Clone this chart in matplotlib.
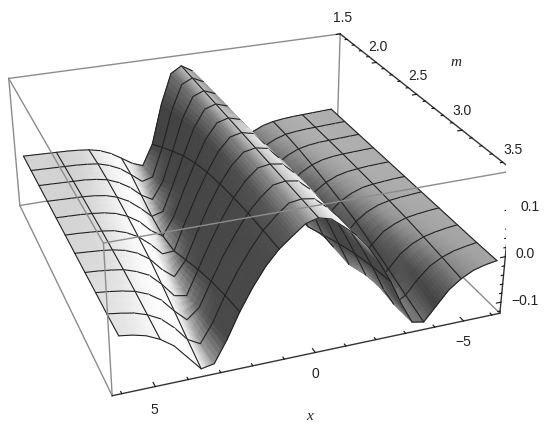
import numpy as np
import matplotlib
matplotlib.use('Agg')
import matplotlib.pyplot as plt
from mpl_toolkits.mplot3d import proj3d
from mpl_toolkits.mplot3d.art3d import Poly3DCollection

# --- DATA ---
x_values = [-6.0, -5.6, -5.2, -4.8, -4.4, -4.0, -3.6, -3.2, -2.8, -2.4, -2.0, -1.6, -1.2, -0.8, -0.4, 0.0,
            0.4, 0.8, 1.2, 1.6, 2.0, 2.4, 2.8, 3.2, 3.6, 4.0, 4.4, 4.8, 5.2, 5.6, 6.0]
m_values = [1.5, 1.7, 1.9, 2.1, 2.3, 2.5, 2.7, 2.9, 3.1, 3.3, 3.5]

z_m15 = [-.006, -.007, -.008, -.009, -.010, -.012, -.015, -.021, -.032, -.048, -.065, -.075, -.025, .070, .140, .155,
         .140, .070, -.025, -.075, -.065, -.048, -.032, -.021, -.015, -.012, -.010, -.009, -.008, -.007, -.006]
z_m17 = [-.006, -.007, -.008, -.009, -.010, -.012, -.015, -.023, -.035, -.054, -.075, -.068, .000, .085, .143, .155,
         .143, .085, .000, -.068, -.075, -.054, -.035, -.023, -.015, -.012, -.010, -.009, -.008, -.007, -.006]
z_m19 = [-.006, -.007, -.008, -.009, -.010, -.013, -.018, -.029, -.045, -.068, -.083, -.045, .025, .098, .145, .155,
         .145, .098, .025, -.045, -.083, -.068, -.045, -.029, -.018, -.013, -.010, -.009, -.008, -.007, -.006]
z_m21 = [-.006, -.007, -.008, -.009, -.011, -.015, -.023, -.037, -.058, -.082, -.075, -.015, .048, .108, .147, .155,
         .147, .108, .048, -.015, -.075, -.082, -.058, -.037, -.023, -.015, -.011, -.009, -.008, -.007, -.006]
z_m23 = [-.006, -.007, -.008, -.010, -.013, -.019, -.030, -.047, -.073, -.090, -.050, .010, .066, .116, .148, .155,
         .148, .116, .066, .010, -.050, -.090, -.073, -.047, -.030, -.019, -.013, -.010, -.008, -.007, -.006]
z_m25 = [-.006, -.007, -.009, -.011, -.015, -.024, -.038, -.060, -.087, -.085, -.025, .030, .080, .122, .149, .155,
         .149, .122, .080, .030, -.025, -.085, -.087, -.060, -.038, -.024, -.015, -.011, -.009, -.007, -.006]
z_m27 = [-.006, -.008, -.010, -.013, -.019, -.030, -.048, -.077, -.098, -.065, -.008, .045, .090, .126, .150, .155,
         .150, .126, .090, .045, -.008, -.065, -.098, -.077, -.048, -.030, -.019, -.013, -.010, -.008, -.006]
z_m29 = [-.006, -.008, -.011, -.015, -.024, -.037, -.062, -.093, -.098, -.045, .008, .056, .097, .129, .151, .155,
         .151, .129, .097, .056, .008, -.045, -.098, -.093, -.062, -.037, -.024, -.015, -.011, -.008, -.006]
z_m31 = [-.006, -.009, -.013, -.019, -.030, -.048, -.077, -.102, -.080, -.028, .022, .064, .102, .130, .151, .155,
         .151, .130, .102, .064, .022, -.028, -.080, -.102, -.077, -.048, -.030, -.019, -.013, -.009, -.006]
z_m33 = [-.006, -.010, -.015, -.024, -.038, -.062, -.093, -.108, -.068, -.015, .031, .071, .105, .130, .151, .155,
         .151, .130, .105, .071, .031, -.015, -.068, -.108, -.093, -.062, -.038, -.024, -.015, -.010, -.006]
z_m35 = [-.005, -.009, -.016, -.029, -.048, -.078, -.108, -.103, -.058, -.005, .040, .078, .107, .128, .148, .155,
         .148, .128, .107, .078, .040, -.005, -.058, -.103, -.108, -.078, -.048, -.029, -.016, -.009, -.005]

x_tick_labels = ['5', '0', '\u22125']
m_tick_labels = ['1.5', '2.0', '2.5', '3.0', '3.5']
z_tick_labels = ['0.1', '0.0', '\u22120.1']

# --- VIEW SETTINGS (fitted to the box corners) ---
W, H = 556, 431
X0, X1 = -6.283, 6.283
M0, M1 = 1.5, 3.5
Z0, Z1 = -0.125, 0.18
ELEV, AZIM, ROLL = 26.636, 69.829, 0.253
FOCAL = 0.458
BOX = (1, 1.005, 0.395)
SCALE, OX, OY = 2937.53, 241.87, 240.10

x = np.array(x_values)
m = np.array(m_values)
z = np.array([z_m15, z_m17, z_m19, z_m21, z_m23, z_m25, z_m27, z_m29, z_m31, z_m33, z_m35])

fig = plt.figure(figsize=(W / 100, H / 100), dpi=100)
width = SCALE * 0.185
ax = fig.add_axes([(OX - 0.095 * SCALE) / W, (OY - 0.095 * SCALE) / H, width / W, width / H], projection='3d')
ax.set_xlim(X0, X1)
ax.set_ylim(M0, M1)
ax.set_zlim(Z0, Z1)
ax.set_autoscale_on(False)
ax.view_init(elev=ELEV, azim=AZIM, roll=ROLL)
ax.set_proj_type('persp', focal_length=FOCAL)
ax.set_box_aspect(BOX)
ax.set_axis_off()
ax.computed_zorder = False
proj = ax.get_proj()

# slopes in box units, used for the shading
sx = BOX[2] / (Z1 - Z0) * (X1 - X0) / BOX[0]
sy = BOX[2] / (Z1 - Z0) * (M1 - M0) / BOX[1]
view = np.array([np.cos(np.radians(ELEV)) * np.cos(np.radians(AZIM)),
                 np.cos(np.radians(ELEV)) * np.sin(np.radians(AZIM)),
                 np.sin(np.radians(ELEV))])


def facet_grey(i, j):
    dzdx = (z[i, j + 1] + z[i + 1, j + 1] - z[i, j] - z[i + 1, j]) / 2 / (x[j + 1] - x[j]) * sx
    dzdy = (z[i + 1, j] + z[i + 1, j + 1] - z[i, j] - z[i, j + 1]) / 2 / (m[i + 1] - m[i]) * sy
    n = np.array([-dzdx, -dzdy, 1.0])
    n = n / np.linalg.norm(n)
    if n @ view < 0:
        return 0.28
    g = np.interp(n[0], [-1, -0.6, -0.25, 0, 0.3, 0.55, 0.68, 0.8, 1],
                  [0.98, 0.96, 0.88, 0.75, 0.66, 0.52, 0.32, 0.27, 0.25])
    xc = (x[j] + x[j + 1]) / 2
    g = g + 0.01 * xc + 0.03 * n[1]
    return float(np.clip(g, 0.24, 1.0))


rows, cols = z.shape
facet = np.array([[facet_grey(i, j) for j in range(cols - 1)] for i in range(rows - 1)])

# grey at the corners of the facets, so that the shading runs smoothly over them
corner = np.zeros(z.shape)
for i in range(rows):
    for j in range(cols):
        corner[i, j] = facet[max(i - 1, 0):i + 1, max(j - 1, 0):j + 1].mean()

# draw the facets back to front, mesh lines just after their neighbours
depth = np.zeros((rows - 1, cols - 1))
for i in range(rows - 1):
    for j in range(cols - 1):
        xc = (x[j] + x[j + 1]) / 2
        mc = (m[i] + m[i + 1]) / 2
        zc = z[i:i + 2, j:j + 2].mean()
        depth[i, j] = proj3d.proj_transform(np.array([xc]), np.array([mc]), np.array([zc]), proj)[2][0]

order = np.argsort(-depth, axis=None)
rank = np.zeros(depth.shape)
rank.flat[order] = np.arange(order.size)

STRIPS_X, STRIPS_M = 5, 3
for i in range(rows - 1):
    for j in range(cols - 1):
        verts = []
        greys = []
        for a in range(STRIPS_X):
            for b in range(STRIPS_M):
                quad = []
                for s, t in ((a, b), (a + 1, b), (a + 1, b + 1), (a, b + 1)):
                    u, v = s / STRIPS_X, t / STRIPS_M
                    zp = (1 - v) * ((1 - u) * z[i, j] + u * z[i, j + 1]) + v * ((1 - u) * z[i + 1, j] + u * z[i + 1, j + 1])
                    quad.append((x[j] + u * (x[j + 1] - x[j]), m[i] + v * (m[i + 1] - m[i]), zp))
                verts.append(quad)
                u, v = (a + 0.5) / STRIPS_X, (b + 0.5) / STRIPS_M
                greys.append((1 - v) * ((1 - u) * corner[i, j] + u * corner[i, j + 1])
                              + v * ((1 - u) * corner[i + 1, j] + u * corner[i + 1, j + 1]))
        colors = [(g, g, g) for g in greys]
        poly = Poly3DCollection(verts, facecolors=colors, edgecolors=colors, linewidths=0.6, zorder=10 + rank[i, j])
        ax.add_collection3d(poly, autolim=False)

mesh = dict(color='#222222', linewidth=0.8, solid_capstyle='round')
for i in range(rows):
    for j in range(cols - 1):
        near = [rank[k, j] for k in (i - 1, i) if 0 <= k < rows - 1]
        ax.plot(x[j:j + 2], [m[i]] * 2, z[i, j:j + 2], zorder=10.5 + max(near), **mesh)
for j in range(0, cols, 3):
    for i in range(rows - 1):
        near = [rank[i, k] for k in (j - 1, j) if 0 <= k < cols - 1]
        ax.plot([x[j]] * 2, m[i:i + 2], z[i:i + 2, j], zorder=10.5 + max(near), **mesh)

# --- BOX ---
back = dict(color='#8c8c8c', linewidth=1.0, zorder=1)
front = dict(color='#8c8c8c', linewidth=1.0, zorder=2000)
ax.plot([X1, X1], [M0, M0], [Z0, Z1], **back)
ax.plot([X0, X0], [M0, M0], [Z0, Z1], **back)
ax.plot([X1, X0], [M0, M0], [Z1, Z1], **back)
ax.plot([X1, X0], [M0, M0], [Z0, Z0], **back)
ax.plot([X0, X0], [M0, M1], [Z0, Z0], **back)
ax.plot([X1, X1], [M0, M1], [Z1, Z1], **front)
ax.plot([X1, X0], [M1, M1], [Z1, Z1], **front)
ax.plot([X1, X1], [M1, M1], [Z0, Z1], **front)
ax.plot([X1, X1], [M0, M1], [Z0, Z0], **front)

axis = dict(color='#333333', linewidth=1.0, zorder=2001)
ax.plot([X1, X0], [M1, M1], [Z0, Z0], **axis)
ax.plot([X0, X0], [M1, M1], [Z0, Z1], **axis)
ax.plot([X0, X0], [M0, M1], [Z1, Z1], **axis)

# --- TICKS ---
tick = dict(color='#111111', linewidth=0.8, zorder=2002)
for v in np.arange(-6, 7):
    size = 0.035 if v % 5 == 0 else 0.018
    ax.plot([v, v], [M1, M1 - size], [Z0, Z0], **tick)
for v in np.arange(15, 36) / 10:
    size = 0.16 if round(v * 10) % 5 == 0 else 0.08
    ax.plot([X0, X0 + size], [v, v], [Z1, Z1], **tick)
for v in np.arange(-12, 18, 2) / 100:
    size = 0.16 if round(v * 100) % 10 == 0 else 0.08
    ax.plot([X0, X0 + size], [M1, M1], [v, v], **tick)

# --- TEXT ---
label = dict(family='Liberation Sans', fontsize=10, color='#222222', ha='center', va='center')
for text, px, py in zip(x_tick_labels, [154, 315, 463], [410, 374, 342]):
    fig.text(px / W, 1 - py / H, text, **label)
for text, px, py in zip(m_tick_labels, [343, 378, 418, 462, 513], [18, 47, 76, 111, 150]):
    fig.text(px / W, 1 - py / H, text, **label)
for text, px, py in zip(z_tick_labels, [530, 525, 525], [207, 254, 301]):
    fig.text(px / W, 1 - py / H, text, **label)
name = dict(family='Liberation Serif', style='italic', fontsize=11, color='#222222', ha='center', va='center')
fig.text(310 / W, 1 - 417 / H, 'x', **name)
fig.text(456 / W, 1 - 62 / H, 'm', **name)

fig.savefig('out.png', dpi=100)
